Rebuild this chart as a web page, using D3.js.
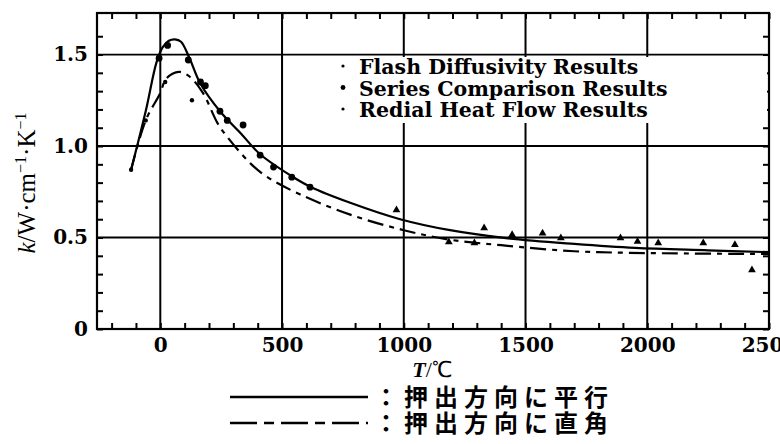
<!DOCTYPE html>
<html lang="ja">
<head>
<meta charset="utf-8">
<title>k vs T</title>
<script src="https://d3js.org/d3.v7.min.js"></script>
<style>
  body { margin: 0; background: #fff; }
  svg { display: block; }
  .tk text { font-family: "DejaVu Serif", serif; font-weight: bold; font-size: 20px; }
</style>
</head>
<body>
<script>

// data: [T in degC, k in W/cm/K]
var parallelCurve = [[-120,0.87],[-60,1.19],[-15,1.46],[10,1.54],[35,1.575],[60,1.583],[85,1.57],[120,1.48],
    [165,1.34],[245,1.19],[330,1.07],[410,0.955],[540,0.835],[620,0.775],[780,0.69],[985,0.60],
    [1190,0.54],[1420,0.497],[1700,0.465],[1950,0.443],[2250,0.43],[2500,0.42]];
var perpCurve = [[-120,0.87],[-60,1.14],[0,1.29],[20,1.36],[50,1.395],[80,1.405],[120,1.38],[175,1.29],
    [235,1.125],[275,1.05],[370,0.905],[440,0.83],[575,0.735],[780,0.625],[1000,0.54],[1190,0.488],
    [1400,0.458],[1700,0.425],[2000,0.415],[2500,0.41]];

var flashPts = [[-120,0.87],[-60,1.14],[20,1.35],[130,1.25]];
var seriesPts = [[-5,1.48],[30,1.55],[115,1.47],[165,1.35],[185,1.33],[245,1.19],[275,1.14],[340,1.115],
    [410,0.95],[465,0.885],[540,0.83],[615,0.775]];
var radialPts = [[970,0.65],[1185,0.475],[1290,0.47],[1330,0.552],[1445,0.515],[1570,0.523],[1645,0.497],
    [1890,0.497],[1960,0.478],[2045,0.47],[2230,0.47],[2360,0.46],[2430,0.322]];

var xMajor = [0, 500, 1000, 1500, 2000, 2500];
var yMajor = [0, 0.5, 1.0, 1.5];
var legendLabels = ["Flash Diffusivity Results", "Series Comparison Results", "Redial Heat Flow Results"];
var lineLabels = ["：押出方向に平行", "：押出方向に直角"];

var W = 780, H = 444;
var x = d3.scaleLinear().domain([-260, 2500]).range([97, 769]);
var y = d3.scaleLinear().domain([0, 1.727]).range([329, 13]);

var svg = d3.select("body").append("svg")
    .attr("width", W).attr("height", H);
svg.append("rect").attr("width", W).attr("height", H).attr("fill", "#fff");

// grid
svg.selectAll(".gx").data(xMajor.slice(0, 5)).enter().append("line")
    .attr("x1", d => x(d)).attr("x2", d => x(d))
    .attr("y1", y.range()[1]).attr("y2", y.range()[0])
    .attr("stroke", "#000").attr("stroke-width", 2);
svg.selectAll(".gy").data(yMajor.slice(1)).enter().append("line")
    .attr("x1", x.range()[0]).attr("x2", x.range()[1])
    .attr("y1", d => y(d)).attr("y2", d => y(d))
    .attr("stroke", "#000").attr("stroke-width", 1.8);

// axes (inward ticks)
var xt = d3.range(-200, 2501, 100), yt = d3.range(0, 17).map(d => d / 10);
svg.append("g").attr("class", "tk").attr("transform", "translate(0," + y(0) + ")")
    .call(d3.axisBottom(x).tickValues(xt).tickSize(-6).tickPadding(9)
        .tickFormat(d => d % 500 === 0 ? d : ""));
svg.append("g").attr("class", "tk").attr("transform", "translate(0," + y.range()[1] + ")")
    .call(d3.axisTop(x).tickValues(xt).tickSize(-6).tickFormat(""));
svg.append("g").attr("class", "tk").attr("transform", "translate(" + x.range()[0] + ",0)")
    .call(d3.axisLeft(y).tickValues(yt).tickSize(-6).tickPadding(9)
        .tickFormat(d => yMajor.indexOf(d) < 0 ? "" : (d === 0 ? "0" : d3.format(".1f")(d))));
svg.append("g").attr("class", "tk").attr("transform", "translate(" + x.range()[1] + ",0)")
    .call(d3.axisRight(y).tickValues(yt).tickSize(-6).tickFormat(""));
svg.selectAll(".tk .domain").remove();
svg.selectAll(".tk line").attr("stroke-width", 2);

svg.append("rect")
    .attr("x", x.range()[0]).attr("y", y.range()[1])
    .attr("width", x.range()[1] - x.range()[0]).attr("height", y.range()[0] - y.range()[1])
    .attr("fill", "none").attr("stroke", "#000").attr("stroke-width", 2.2);

// legend box inside plot
svg.append("rect").attr("x", 334).attr("y", 57).attr("width", 433).attr("height", 66).attr("fill", "#fff");

var line = d3.line().x(d => x(d[0])).y(d => y(d[1])).curve(d3.curveCatmullRom.alpha(0.5));
svg.append("path").datum(parallelCurve).attr("d", line)
    .attr("fill", "none").attr("stroke", "#000").attr("stroke-width", 2.2);
svg.append("path").datum(perpCurve).attr("d", line)
    .attr("fill", "none").attr("stroke", "#000").attr("stroke-width", 2.2)
    .attr("stroke-dasharray", "16,6,5,6");

svg.selectAll(".fp").data(flashPts).enter().append("circle")
    .attr("cx", d => x(d[0])).attr("cy", d => y(d[1])).attr("r", 2.2);
svg.selectAll(".sp").data(seriesPts).enter().append("circle")
    .attr("cx", d => x(d[0])).attr("cy", d => y(d[1])).attr("r", 3.4);
svg.selectAll(".rp").data(radialPts).enter().append("path")
    .attr("transform", d => "translate(" + x(d[0]) + "," + y(d[1]) + ")")
    .attr("d", d3.symbol(d3.symbolTriangle, 26));

var lg = svg.append("g").attr("font-family", "DejaVu Serif, serif").attr("font-weight", "bold")
    .attr("font-size", 20.5);
legendLabels.forEach(function(t, i) {
    var yy = 66 + i * 21.5;
    lg.append("circle").attr("cx", 343).attr("cy", yy).attr("r", i === 1 ? 2.4 : 1.6);
    lg.append("text").attr("x", 359).attr("y", yy + 8).text(t);
});

// axis titles
svg.append("text").attr("transform", "translate(35,183) rotate(-90)")
    .attr("text-anchor", "middle").attr("font-family", "Liberation Serif, serif").attr("font-size", 25)
    .html('<tspan font-style="italic">k</tspan>/W·cm<tspan dy="-9" font-size="16">−1</tspan>' +
          '<tspan dy="9">·K</tspan><tspan dy="-9" font-size="16">−1</tspan>');
svg.append("text").attr("x", 432).attr("y", 377).attr("text-anchor", "middle")
    .attr("font-family", "Liberation Serif, serif").attr("font-size", 22)
    .html('<tspan font-style="italic" font-weight="bold">T</tspan>/℃');

// line-style key below the chart
var key = svg.append("g");
lineLabels.forEach(function(t, i) {
    var yy = 397 + i * 26;
    key.append("line").attr("x1", 230).attr("x2", 368).attr("y1", yy).attr("y2", yy)
        .attr("stroke", "#000").attr("stroke-width", 2.4)
        .attr("stroke-dasharray", i ? "27,7,10,7" : null);
    key.append("text").attr("x", 374).attr("y", yy + 9)
        .attr("font-family", "Noto Sans CJK JP, sans-serif").attr("font-weight", "bold")
        .attr("font-size", 24).attr("letter-spacing", 6).text(t);
});

</script>
</body>
</html>
